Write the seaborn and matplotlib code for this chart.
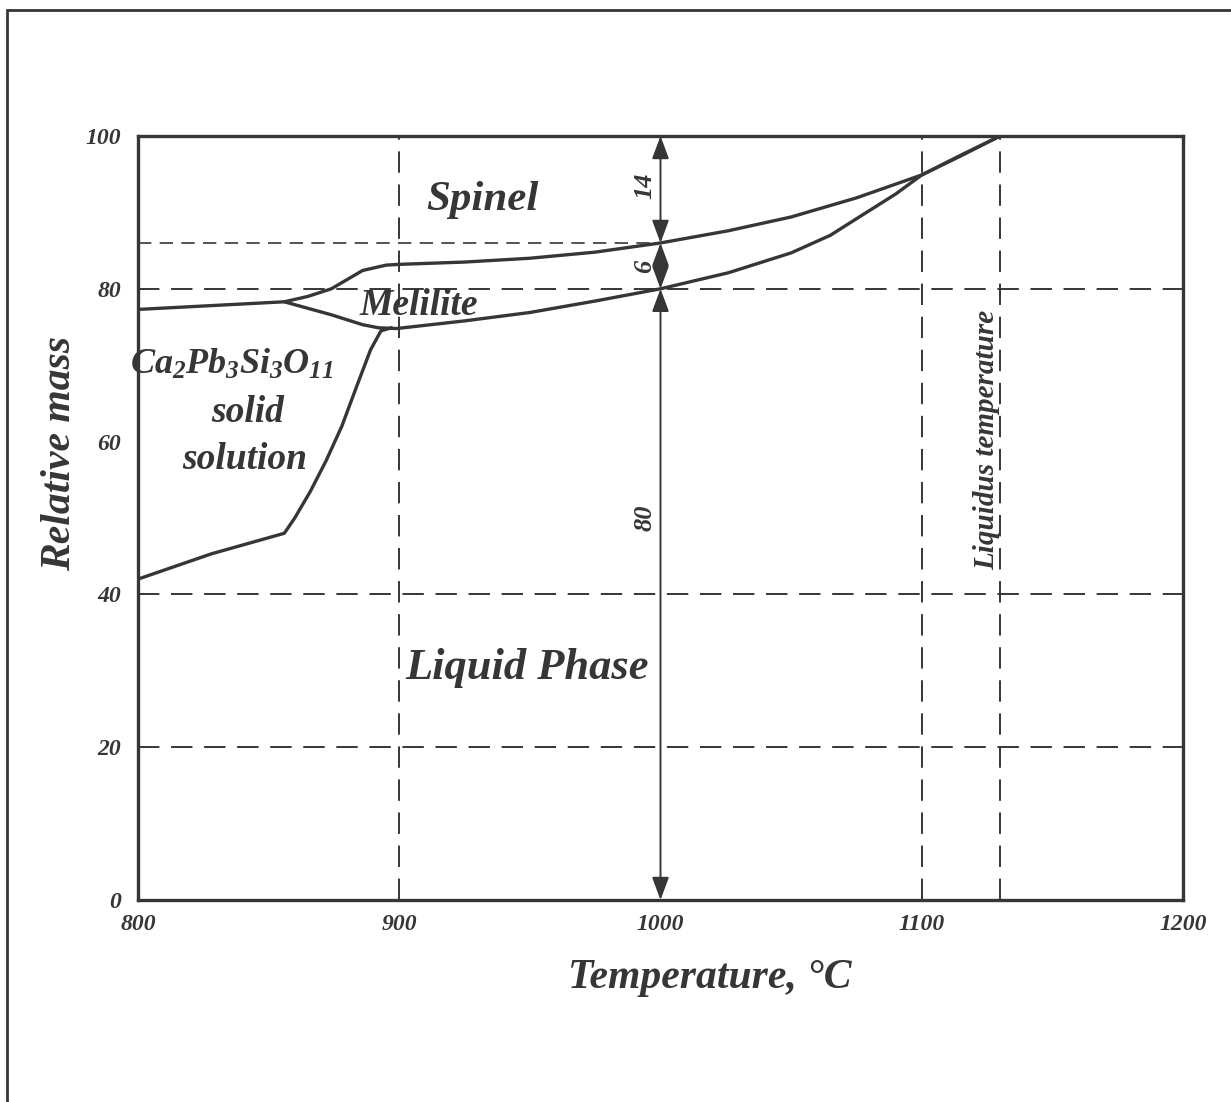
import matplotlib
matplotlib.use("Agg")
import matplotlib.pyplot as plt
import numpy as np
import pandas as pd
import seaborn as sns
from matplotlib.patches import Rectangle

# ---------------- data ----------------
spinel_T = [800, 828, 856, 865, 874, 886, 895, 900, 925, 950, 975, 1000, 1026, 1050, 1075, 1100, 1115, 1130]
spinel_m = [77.3, 77.8, 78.3, 79.0, 80.0, 82.4, 83.1, 83.2, 83.5, 84.0, 84.8, 86.0, 87.6, 89.4, 91.9, 94.9, 97.4, 100.0]

melilite_T = [856, 874, 886, 892, 899, 925, 950, 975, 1000, 1026, 1050, 1065, 1077, 1090, 1100, 1115, 1130]
melilite_m = [78.3, 76.6, 75.3, 74.9, 74.8, 75.8, 76.9, 78.4, 80.0, 82.1, 84.7, 87.0, 89.6, 92.4, 94.9, 97.5, 100.0]

solid_T = [800, 828, 856, 860, 866, 872, 878, 884, 889, 893, 897]
solid_m = [42.0, 45.3, 48.0, 50.0, 53.5, 57.5, 62.0, 67.5, 72.0, 74.5, 74.9]

hgrid_full = [80, 40, 20]
hgrid_short = [86]
vgrid = [900, 1100, 1130]

arrow_T = 1000
arrow_levels = [0, 80, 86, 100]
arrow_label_y = [50, 83, 93.5]

x_ticks = [800, 900, 1000, 1100, 1200]
y_ticks = [0, 20, 40, 60, 80, 100]
x_minor = [850, 950, 1050, 1150]
y_minor = [10, 30, 50, 70, 90]

# ---------------- style ----------------
sns.set_style("white")
plt.rcParams["font.family"] = ["Liberation Serif", "DejaVu Serif"]
plt.rcParams["font.weight"] = "bold"
plt.rcParams["font.style"] = "italic"
plt.rcParams["axes.labelweight"] = "bold"
plt.rcParams["mathtext.fontset"] = "custom"
plt.rcParams["mathtext.it"] = "Liberation Serif:italic:bold"
plt.rcParams["mathtext.rm"] = "Liberation Serif:italic:bold"
plt.rcParams["mathtext.bf"] = "Liberation Serif:italic:bold"

INK = "#363636"

fig = plt.figure(figsize=(12.31, 11.02), dpi=100)
ax = fig.add_axes([138 / 1231, 1 - 900 / 1102, 1045 / 1231, 764 / 1102])

df = pd.concat([
    pd.DataFrame({"T": spinel_T, "m": spinel_m, "curve": "spinel"}),
    pd.DataFrame({"T": melilite_T, "m": melilite_m, "curve": "melilite"}),
    pd.DataFrame({"T": solid_T, "m": solid_m, "curve": "solid"}),
])
for name, sub in df.groupby("curve", sort=False):
    sns.lineplot(data=sub, x="T", y="m", sort=False, estimator=None,
                 color=INK, lw=2.4, ax=ax, zorder=4, legend=False)

# dashed grid lines
for y in hgrid_full:
    ax.axhline(y, color=INK, lw=1.4, dashes=(11, 6), zorder=2)
for y in hgrid_short:
    ax.plot([800, arrow_T], [y, y], color=INK, lw=1.2, dashes=(8, 5), zorder=2)
for x in vgrid:
    ax.axvline(x, color=INK, lw=1.4, dashes=(11, 6), zorder=2)

# double arrows with span labels
for lo, hi, ly in zip(arrow_levels[:-1], arrow_levels[1:], arrow_label_y):
    ax.annotate("", xy=(arrow_T, hi), xytext=(arrow_T, lo),
                arrowprops=dict(arrowstyle="<|-|>,head_length=0.7,head_width=0.26",
                                color=INK, lw=1.4, shrinkA=0, shrinkB=0,
                                mutation_scale=20), zorder=5)
    ax.text(arrow_T - 6, ly, f"{hi - lo}", rotation=90,
            ha="center", va="center", fontsize=19, color=INK)

# region labels
ax.text(932, 91.6, "Spinel", ha="center", va="center", fontsize=31, color=INK)
ax.text(949, 30.4, "Liquid Phase", ha="center", va="center", fontsize=32, color=INK)
ax.text(907.5, 77.8, "Melilite", ha="center", va="center", fontsize=27, color=INK)
ax.text(836, 70.0, r"$Ca_2Pb_3Si_3O_{11}$", ha="center", va="center", fontsize=26, color=INK)
ax.text(842, 63.8, "solid", ha="center", va="center", fontsize=27, color=INK)
ax.text(841, 57.6, "solution", ha="center", va="center", fontsize=27, color=INK)
ax.text(1125, 60.2, "Liquidus temperature", rotation=90, ha="center", va="center",
        fontsize=21, color=INK)

# axes
ax.set_xlim(800, 1200)
ax.set_ylim(0, 100)
ax.set_xticks(x_ticks)
ax.set_yticks(y_ticks)
ax.set_xticks(x_minor, minor=True)
ax.set_yticks(y_minor, minor=True)
ax.tick_params(which="major", length=0, labelsize=17, labelcolor=INK)
ax.tick_params(axis="x", which="major", pad=10)
ax.tick_params(axis="y", which="major", pad=12)
ax.tick_params(which="minor", direction="inout", length=16, width=1.5, color=INK)
for s in ax.spines.values():
    s.set_color(INK)
    s.set_linewidth(2.4)
    s.set_visible(True)

ax.set_xlabel("Temperature, °C", fontsize=30, fontweight="bold", color=INK, va="center")
ax.xaxis.set_label_coords(0.547, -0.102)
ax.set_ylabel("Relative mass", fontsize=30, fontweight="bold", color=INK, va="center")
ax.yaxis.set_label_coords(-0.075, 0.585)

# outer page frame
fig.add_artist(Rectangle((7 / 1231, -0.1), 1.2, 1.1 - 10 / 1102, transform=fig.transFigure,
                         fill=False, ec=INK, lw=2.0))

fig.savefig("out.png", dpi=100, facecolor="white")
